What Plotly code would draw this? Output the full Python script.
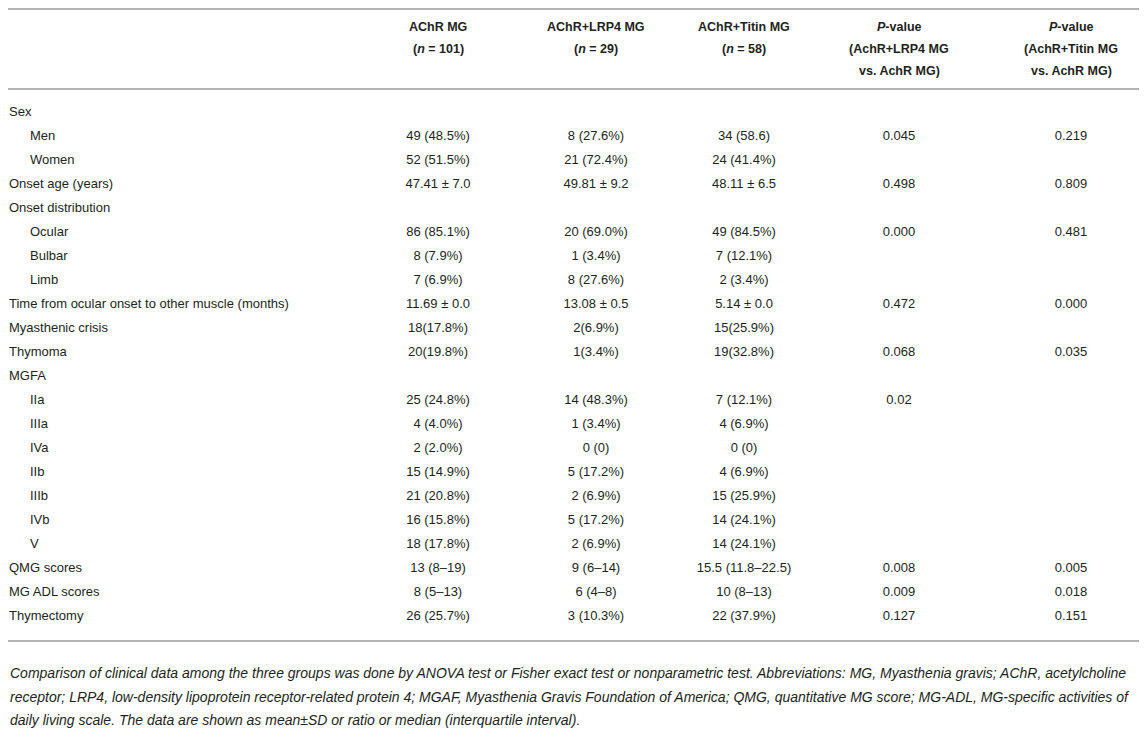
"""
Clinical characteristics table drawn with plotly text traces
"""

import plotly.graph_objects as go

LABELS = ['Sex', 'Men', 'Women', 'Onset age (years)', 'Onset distribution',
          'Ocular', 'Bulbar', 'Limb',
          'Time from ocular onset to other muscle (months)',
          'Myasthenic crisis', 'Thymoma', 'MGFA', 'IIa', 'IIIa', 'IVa', 'IIb',
          'IIIb', 'IVb', 'V', 'QMG scores', 'MG ADL scores', 'Thymectomy']
INDENT = [0, 1, 1, 0, 0, 1, 1, 1, 0, 0, 0, 0, 1, 1, 1, 1, 1, 1, 1, 0, 0, 0]

ACHR = ['', '49 (48.5%)', '52 (51.5%)', '47.41 ± 7.0', '', '86 (85.1%)',
        '8 (7.9%)', '7 (6.9%)', '11.69 ± 0.0', '18(17.8%)', '20(19.8%)', '',
        '25 (24.8%)', '4 (4.0%)', '2 (2.0%)', '15 (14.9%)', '21 (20.8%)',
        '16 (15.8%)', '18 (17.8%)', '13 (8–19)', '8 (5–13)', '26 (25.7%)']
LRP4 = ['', '8 (27.6%)', '21 (72.4%)', '49.81 ± 9.2', '', '20 (69.0%)',
        '1 (3.4%)', '8 (27.6%)', '13.08 ± 0.5', '2(6.9%)', '1(3.4%)', '',
        '14 (48.3%)', '1 (3.4%)', '0 (0)', '5 (17.2%)', '2 (6.9%)',
        '5 (17.2%)', '2 (6.9%)', '9 (6–14)', '6 (4–8)', '3 (10.3%)']
TITIN = ['', '34 (58.6)', '24 (41.4%)', '48.11 ± 6.5', '', '49 (84.5%)',
         '7 (12.1%)', '2 (3.4%)', '5.14 ± 0.0', '15(25.9%)', '19(32.8%)', '',
         '7 (12.1%)', '4 (6.9%)', '0 (0)', '4 (6.9%)', '15 (25.9%)',
         '14 (24.1%)', '14 (24.1%)', '15.5 (11.8–22.5)', '10 (8–13)',
         '22 (37.9%)']
P_LRP4 = ['', '0.045', '', '0.498', '', '0.000', '', '', '0.472', '', '0.068',
          '', '0.02', '', '', '', '', '', '', '0.008', '0.009', '0.127']
P_TITIN = ['', '0.219', '', '0.809', '', '0.481', '', '', '0.000', '', '0.035',
           '', '', '', '', '', '', '', '', '0.005', '0.018', '0.151']

HEADERS = [['AChR MG', '(<i>n</i> = 101)'],
           ['AChR+LRP4 MG', '(<i>n</i> = 29)'],
           ['AChR+Titin MG', '(<i>n</i> = 58)'],
           ['<i>P</i>-value', '(AchR+LRP4 MG', 'vs. AchR MG)'],
           ['<i>P</i>-value', '(AchR+Titin MG', 'vs. AchR MG)']]

FOOTNOTE = [
    'Comparison of clinical data among the three groups was done by ANOVA test '
    'or Fisher exact test or nonparametric test. Abbreviations: MG, Myasthenia '
    'gravis; AChR, acetylcholine',
    'receptor; LRP4, low-density lipoprotein receptor-related protein 4; MGAF, '
    'Myasthenia Gravis Foundation of America; QMG, quantitative MG score; '
    'MG-ADL, MG-specific activities of',
    'daily living scale. The data are shown as mean±SD or ratio or median '
    '(interquartile interval).']

# layout (pixels)
W, H = 1147, 756
ROW0, ROW_H = 105, 24
COL_X = [430, 588, 736, 891, 1063]
LABEL_X = [1, 22]
HEAD_Y = [19, 41, 63]
RULES_Y = [1, 81, 633]
NOTE_Y = [665, 689, 712]
FONT = 'Liberation Sans, Arial, sans-serif'
INK = '#231f20'


def row(px):
    return (px - ROW0) / ROW_H


rows = list(range(len(LABELS)))
fig = go.Figure()

fig.add_trace(go.Scatter(x=[LABEL_X[i] for i in INDENT], y=rows, text=LABELS,
                         mode='text', textposition='middle right',
                         textfont=dict(family=FONT, size=13, color=INK),
                         hoverinfo='skip'))

for cx, col in zip(COL_X, [ACHR, LRP4, TITIN, P_LRP4, P_TITIN]):
    fig.add_trace(go.Scatter(x=[cx] * len(col), y=rows, text=col,
                             mode='text', textposition='middle center',
                             textfont=dict(family=FONT, size=13, color=INK),
                             hoverinfo='skip'))

for cx, lines in zip(COL_X, HEADERS):
    for hy, line in zip(HEAD_Y, lines):
        fig.add_annotation(x=cx, y=row(hy), text='<b>%s</b>' % line,
                           showarrow=False, xanchor='center', yanchor='middle',
                           font=dict(family=FONT, size=12.5, color=INK))

for ny, line in zip(NOTE_Y, FOOTNOTE):
    fig.add_annotation(x=0, y=row(ny), text='<i>%s</i>' % line,
                       showarrow=False, xanchor='left', yanchor='middle',
                       font=dict(family=FONT, size=14, color=INK))

for ry in RULES_Y:
    fig.add_shape(type='line', x0=0, x1=1143, y0=row(ry), y1=row(ry),
                  line=dict(color='#b3b3b3', width=2))

fig.update_xaxes(range=[0, W], visible=False, fixedrange=True)
fig.update_yaxes(range=[row(H), row(0)], visible=False, fixedrange=True)
fig.update_layout(width=W, height=H, margin=dict(l=0, r=0, t=0, b=0),
                  showlegend=False, plot_bgcolor='white',
                  paper_bgcolor='white')

fig.write_html('out.html')
